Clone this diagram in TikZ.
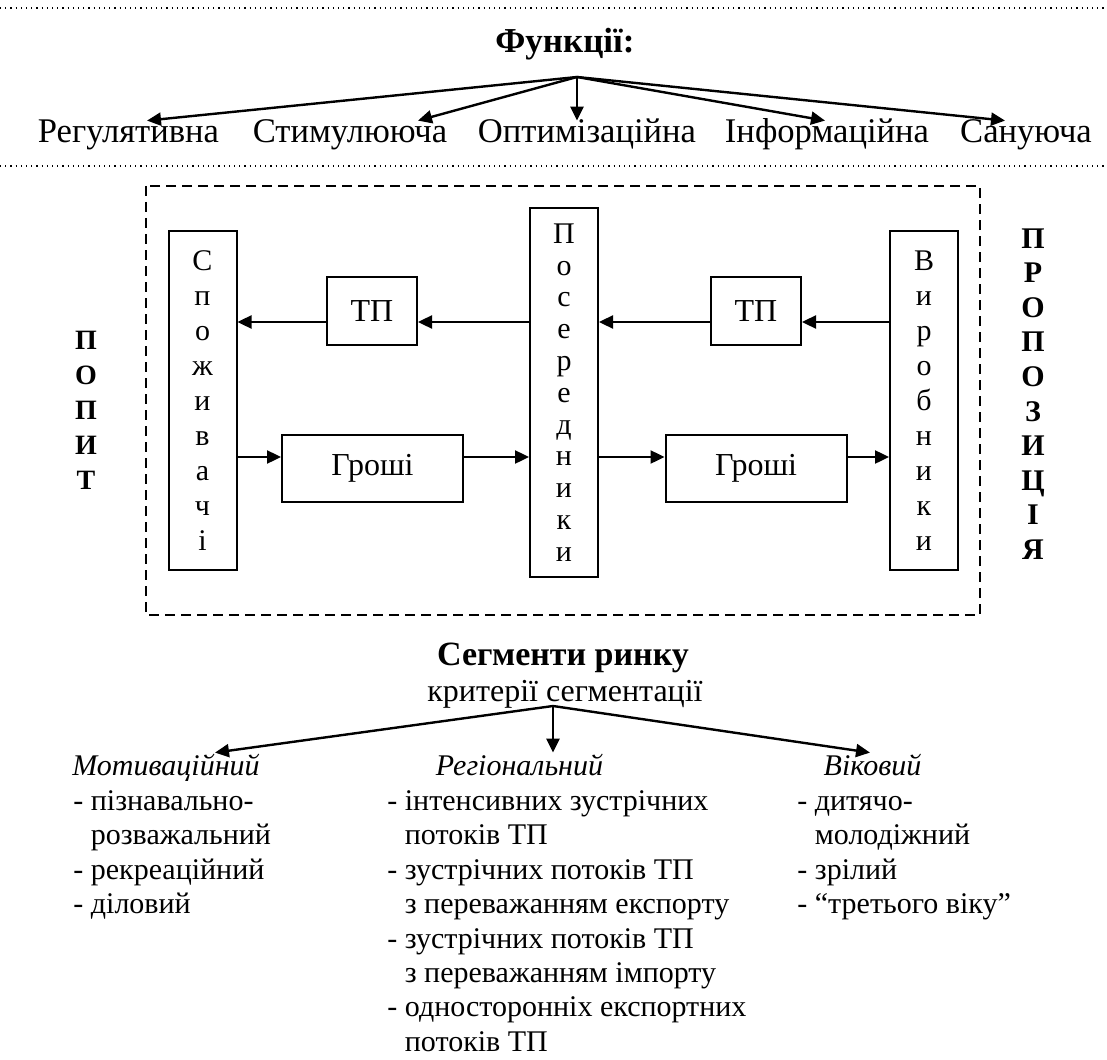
\documentclass[tikz,border=0pt]{standalone}
\usepackage{fontspec}
\setmainfont{Liberation Serif}
\usetikzlibrary{arrows.meta}

\begin{document}
\begin{tikzpicture}[
        x=0.5pt, y=-0.5pt,
        arr/.style={-{Triangle[length=7pt,width=6.5pt]}, line width=1.2pt},
        sep/.style={dotted, line width=0.6pt},
        frame/.style={dash pattern=on 5pt off 3pt, line width=0.8pt},
        func/.style={font=\fontsize{17.3}{20}\selectfont, inner sep=0pt, text height=11pt, anchor=base},
        col/.style={draw, line width=1pt, minimum width=34pt, inner sep=0pt, align=center, font=\fontsize{15}{17.5}\selectfont},
        flow/.style={draw, line width=1pt, inner sep=0pt, font=\fontsize{16}{18}\selectfont},
        side/.style={align=center, inner sep=0pt, font=\bfseries\fontsize{14}{17.5}\selectfont},
        crit/.style={font=\itshape\fontsize{15}{17}\selectfont, inner sep=0pt, text height=11pt, anchor=base},
        items/.style={align=left, anchor=north west, inner sep=0pt, font=\fontsize{15}{17.2}\selectfont}
    ]
    \useasboundingbox (0,0) rectangle (1107,1059);

    \draw[sep] (0,8) -- (1107,8);
    \draw[sep] (0,166) -- (1107,166);

    \node[anchor=base, inner sep=0pt, font=\bfseries\fontsize{17.5}{20}\selectfont] (fun) at (565,53) {Функції:};
    \coordinate (froot) at (577,77);
    \node[func] (reg) at (128.5,143) {Регулятивна};
    \node[func] (stim) at (350,143) {Стимулююча};
    \node[func] (opt) at (587,143) {Оптимізаційна};
    \node[func] (inf) at (827,143) {Інформаційна};
    \node[func] (san) at (1026,143) {Сануюча};

    \draw[arr] (froot) -- ([xshift=9.25pt]reg.north);
    \draw[arr] (froot) -- ([xshift=34pt]stim.north);
    \draw[arr] (froot) -- ([xshift=-5pt]opt.north);
    \draw[arr] (froot) -- ([xshift=-1pt]inf.north);
    \draw[arr] (froot) -- ([xshift=-10.5pt]san.north);

    \draw[frame] (146,186) rectangle (980,615);

    \node[side] (popyt) at (86,410) {П\\О\\П\\И\\Т};
    \node[side, font=\bfseries\fontsize{15}{17.3}\selectfont] (prop) at (1033,394) {П\\Р\\О\\П\\О\\З\\И\\Ц\\І\\Я};

    \node[col, minimum height=169.5pt] (spo) at (202.5,400.5) {С\\п\\о\\ж\\и\\в\\а\\ч\\і};
    \node[col, minimum height=184.5pt, font=\fontsize{15}{15.9}\selectfont] (pos) at (564,392.5) {П\\о\\с\\е\\р\\е\\д\\н\\и\\к\\и};
    \node[col, minimum height=169.5pt] (vyr) at (924,400.5) {В\\и\\р\\о\\б\\н\\и\\к\\и};
    \node[flow, minimum width=45pt, minimum height=34pt] (tpl) at (372,311) {ТП};
    \node[flow, minimum width=45pt, minimum height=34pt] (tpr) at (756,311) {ТП};
    \node[flow, minimum width=90.5pt, minimum height=33.5pt] (grl) at (372.5,468.5) {Гроші};
    \node[flow, minimum width=90.5pt, minimum height=33.5pt] (grr) at (756,468.5) {Гроші};

    \coordinate (tpy) at (0,322);
    \coordinate (gry) at (0,457);
    \draw[arr] (pos.west |- tpy) -- (tpl.east |- tpy);
    \draw[arr] (tpl.west |- tpy) -- (spo.east |- tpy);
    \draw[arr] (vyr.west |- tpy) -- (tpr.east |- tpy);
    \draw[arr] (tpr.west |- tpy) -- (pos.east |- tpy);
    \draw[arr] (spo.east |- gry) -- (grl.west |- gry);
    \draw[arr] (grl.east |- gry) -- (pos.west |- gry);
    \draw[arr] (pos.east |- gry) -- (grr.west |- gry);
    \draw[arr] (grr.east |- gry) -- (vyr.west |- gry);

    \node[anchor=base, inner sep=0pt, font=\bfseries\fontsize{17}{20}\selectfont] (seg) at (563,665) {Сегменти ринку};
    \node[anchor=base, inner sep=0pt, font=\fontsize{16}{18}\selectfont] (krit) at (565,701) {критерії сегментації};
    \coordinate (sroot) at (553,706);
    \node[crit] (mot) at (166,775) {Мотиваційний};
    \node[crit] (regn) at (519.5,775) {Регіональний};
    \node[crit] (vik) at (872.5,775) {Віковий};

    \draw[arr] (sroot) -- ([xshift=24.5pt]mot.north);
    \draw[arr] (sroot) -- ([xshift=16.75pt]regn.north);
    \draw[arr] (sroot) -- ([xshift=-1.25pt]vik.north);

    \node[items] (motl) at (73,786) {\strut- пізнавально-\\\phantom{- }розважальний\\- рекреаційний\\- діловий};
    \node[items] (regl) at (387,786) {\strut- інтенсивних зустрічних\\\phantom{- }потоків ТП\\- зустрічних потоків ТП\\\phantom{- }з переважанням експорту\\- зустрічних потоків ТП\\\phantom{- }з переважанням імпорту\\- односторонніх експортних\\\phantom{- }потоків ТП};
    \node[items] (vikl) at (797,786) {\strut- дитячо-\\\phantom{- }молодіжний\\- зрілий\\- “третього віку”};

\end{tikzpicture}
\end{document}
